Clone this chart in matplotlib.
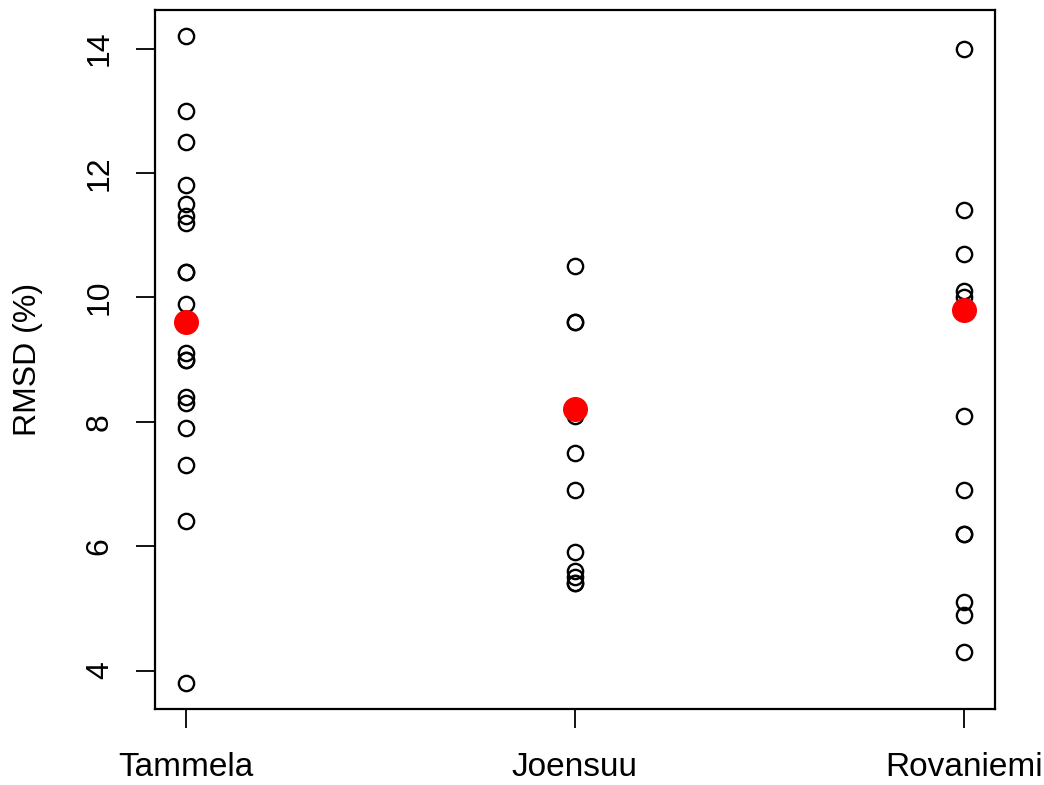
import numpy as np
from matplotlib import pyplot as plt

# RMSD (%) per site
sites = ['Tammela', 'Joensuu', 'Rovaniemi']
tammela = [14.2, 13.0, 12.5, 11.8, 11.5, 11.3, 11.2, 10.4, 10.4, 9.9,
           9.1, 9.0, 9.0, 8.4, 8.3, 7.9, 7.3, 6.4, 3.8]
joensuu = [10.5, 9.6, 9.6, 8.1, 7.5, 6.9, 5.9, 5.6, 5.5, 5.4, 5.4]
rovaniemi = [14.0, 11.4, 10.7, 10.1, 10.0, 8.1, 6.9, 6.2, 6.2, 5.1, 4.9, 4.3]
site_means = [9.6, 8.2, 9.8]
yticks = [4, 6, 8, 10, 12, 14]

plt.rcParams['font.family'] = ['Liberation Sans', 'DejaVu Sans']

fig = plt.figure(figsize=(10.44, 7.85), dpi=100)
ax = fig.add_axes([0.1485, 0.097, 0.8045, 0.890])

groups = [tammela, joensuu, rovaniemi]
for i, vals in enumerate(groups):
    xs = np.full(len(vals), i + 1)
    ax.plot(xs, vals, 'o', mfc='none', mec='black', mew=1.7, ms=11, ls='none')

ax.plot(np.arange(1, 4), site_means, 'o', color='red', ms=17, ls='none')

# R-style 4% padding on both axes
allv = np.concatenate([np.array(g) for g in groups])
lo, hi = allv.min(), allv.max()
pad = 0.04 * (hi - lo)
ax.set_ylim(lo - pad, hi + pad)
ax.set_xlim(0.92, 3.08)

ax.set_xticks([1, 2, 3])
ax.set_xticklabels(sites, fontsize=24)
ax.set_yticks(yticks)
ax.set_yticklabels([str(t) for t in yticks], fontsize=23, rotation=90, va='center')
ax.set_ylabel('RMSD (%)', fontsize=23, labelpad=30)

ax.tick_params(axis='both', length=14, width=1.3, direction='out')
ax.tick_params(axis='x', pad=17)
ax.tick_params(axis='y', pad=15)
for s in ax.spines.values():
    s.set_linewidth(1.6)

fig.savefig('out.png', dpi=100)
